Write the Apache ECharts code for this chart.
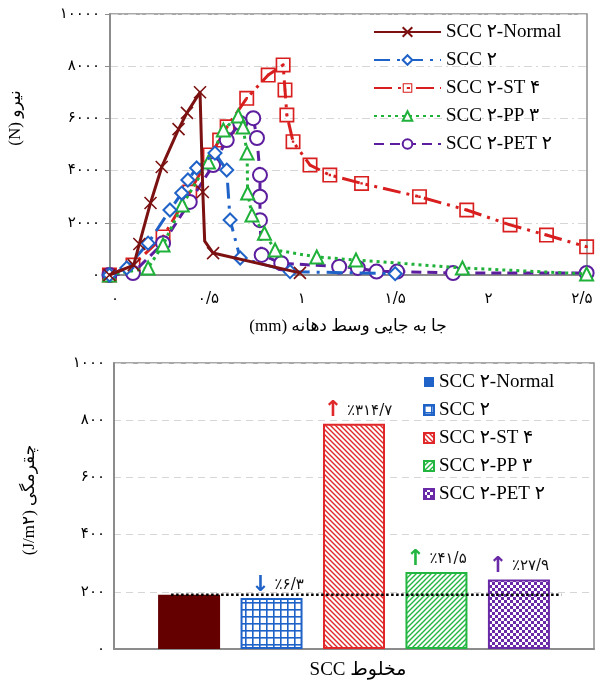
<!DOCTYPE html>
<html>
<head>
<meta charset="utf-8">
<script src="https://cdn.jsdelivr.net/npm/echarts@6/dist/echarts.min.js"></script>
<style>html,body{margin:0;padding:0;background:#fff;}#c{width:601px;height:684px;}</style>
</head>
<body>
<div id="c"></div>
<script>
// ---------- DATA ----------
const seriesNames = ['SCC ۲-Normal', 'SCC ۲', 'SCC ۲-ST ۴', 'SCC ۲-PP ۳', 'SCC ۲-PET ۲'];
// Load–displacement curves [displacement (mm), force (N)]
const normalCurve = [[-0.03,0],[0.1,380],[0.13,1190],[0.19,2760],[0.25,4140],[0.34,5590],[0.385,6210],[0.455,7000],[0.47,3180],[0.48,1300],[0.525,840],[0.99,80]];
const scc2Curve = [[-0.03,0],[0.063,270],[0.177,1220],[0.294,2490],[0.357,3140],[0.39,3640],[0.437,4100],[0.535,4670],[0.598,4020],[0.616,2110],[0.67,650],[0.937,130],[1.5,50]];
const stCurve = [[-0.03,0],[0.096,380],[0.257,1460],[0.40,3180],[0.51,4600],[0.56,5170],[0.60,5680],[0.705,6770],[0.82,7660],[0.90,8050],[0.91,7090],[0.92,6130],[0.953,5110],[1.044,4210],[1.15,3830],[1.32,3510],[1.63,3000],[1.883,2490],[2.115,1920],[2.31,1530],[2.525,1080]];
const ppCurve = [[-0.03,0],[0.177,270],[0.257,1150],[0.36,2680],[0.50,4330],[0.58,5560],[0.66,6090],[0.685,5670],[0.707,4670],[0.71,3140],[0.733,2300],[0.80,1600],[0.857,960],[1.08,690],[1.29,575],[1.86,270],[2.525,40]];
const petCurve = [[-0.03,0],[0.096,77],[0.257,1220],[0.40,2800],[0.525,4210],[0.598,5170],[0.67,5820],[0.74,6010],[0.76,5250],[0.776,3830],[0.776,3000],[0.776,2100],[0.785,770],[0.89,450],[1.2,320],[1.3,270],[1.4,130],[1.51,130],[1.81,77],[2.525,77]];
// index of the Normal-curve point that carries no marker (the knee of the drop)
const normalUnmarked = [9];
const xTicks = [0, 0.5, 1, 1.5, 2, 2.5];
// Toughness bars (J/m2)
const barCategory = ['SCC'];
const toughness = [190, 178, 788, 269, 243];
const changePct = [null, -6.3, 314.7, 41.5, 27.9];
const referenceLevel = 190;
const refLineSpan = [0.119, 0.932];

// ---------- HELPERS ----------
const FA = '۰۱۲۳۴۵۶۷۸۹';
const fa = v => String(v).replace(/\d/g, d => FA[d]).replace('.', '/');
const colors = ['#7b1111', '#1f62c8', '#d81e1e', '#1fb13a', '#5c1e9e'];
const barBorders = ['#650000', '#1f62c8', '#e0282a', '#22b540', '#6a2aa8'];

function pat(w, h, draw) {
  const c = document.createElement('canvas');
  c.width = w; c.height = h;
  const ctx = c.getContext('2d');
  ctx.fillStyle = '#fff'; ctx.fillRect(0, 0, w, h);
  draw(ctx, w, h);
  return { image: c, repeat: 'repeat' };
}
const gridPat = pat(7, 7, (ctx) => { ctx.fillStyle = barBorders[1]; ctx.fillRect(0,0,7,1.6); ctx.fillRect(0,0,1.6,7); });
const backPat = pat(5, 5, (ctx) => { ctx.strokeStyle = barBorders[2]; ctx.lineWidth = 1.4;
  ctx.beginPath(); ctx.moveTo(-1,-1); ctx.lineTo(6,6); ctx.moveTo(-1,4); ctx.lineTo(1,6); ctx.moveTo(4,-1); ctx.lineTo(6,1); ctx.stroke(); });
const fwdPat = pat(5, 5, (ctx) => { ctx.strokeStyle = barBorders[3]; ctx.lineWidth = 1.4;
  ctx.beginPath(); ctx.moveTo(-1,6); ctx.lineTo(6,-1); ctx.moveTo(-1,1); ctx.lineTo(1,-1); ctx.moveTo(4,6); ctx.lineTo(6,4); ctx.stroke(); });
const chkPat = pat(6, 6, (ctx) => { ctx.fillStyle = barBorders[4]; ctx.fillRect(0,0,3,3); ctx.fillRect(3,3,3,3); });
const barFills = ['#650000', gridPat, backPat, fwdPat, chkPat];

const serif = "'Liberation Serif', 'DejaVu Sans', serif";
const persian = "'DejaVu Sans', sans-serif";
const gray = '#8c8c8c';

const curves = [normalCurve, scc2Curve, stCurve, ppCurve, petCurve];
const squareDot = 'path://M0,0H100V100H0Z M11,11V89H89V11Z M42,42H58V58H42Z';
const symbols = ['path://M0,0L10,10M10,0L0,10', 'emptyDiamond', squareDot, 'emptyTriangle', 'emptyCircle'];
const symbolSizes = [12, 13, 15, 13, 14];
const dashes = ['solid', [16,7,3,7], [18,6,3,6,3,6], [3,4], [10,6]];

const lineSeries = curves.map((d, i) => ({
  type: 'line', name: seriesNames[i], xAxisIndex: 0, yAxisIndex: 0,
  data: i === 0 ? d.map((p, k) => normalUnmarked.includes(k) ? { value: p, symbol: 'none' } : p) : d,
  symbol: symbols[i], symbolSize: symbolSizes[i], symbolKeepAspect: true,
  showAllSymbol: true, smooth: false, clip: false,
  lineStyle: { color: colors[i], width: 3, type: dashes[i], cap: 'butt', join: 'round' },
  itemStyle: i === 2 ? { color: colors[i], borderWidth: 0 } : { color: colors[i], borderColor: colors[i], borderWidth: 1.6 },
  z: 10 - i
}));
lineSeries[2].z = 3;

const labelOffsets = [[0,0],[6,0],[4,0],[0,0],[0,0]];
const barSeries = toughness.map((v, i) => ({
  type: 'bar', name: seriesNames[i] + '\u200B', xAxisIndex: 1, yAxisIndex: 1,
  data: [v], barWidth: 62, barGap: '33%',
  itemStyle: { color: barFills[i], borderColor: barBorders[i], borderWidth: i === 0 ? 0 : 2 },
  label: changePct[i] == null ? { show: false } : {
    show: true, position: 'top', distance: 2, offset: labelOffsets[i],
    formatter: '{a|' + (changePct[i] < 0 ? '↓' : '↑') + '}{b| ٪' + fa(Math.abs(changePct[i])) + '}',
    rich: {
      a: { color: barBorders[i], fontSize: 22, fontFamily: persian, fontWeight: 'bold' },
      b: { color: '#111', fontSize: 15, fontFamily: persian }
    }
  }
}));

const refLine = {
  type: 'line', xAxisIndex: 2, yAxisIndex: 1, symbol: 'none', silent: true,
  data: [[refLineSpan[0], referenceLevel], [refLineSpan[1], referenceLevel]],
  lineStyle: { color: '#000', width: 2.5, type: [2.5, 2.5] }, z: 5
};

const chart = echarts.init(document.getElementById('c'), null, { renderer: 'canvas' });
chart.setOption({
  animation: false,
  backgroundColor: '#fff',
  grid: [
    { left: 110, top: 14, width: 477, height: 261, show: true, borderColor: gray, borderWidth: 1.5 },
    { left: 114, top: 363, width: 480, height: 286, show: true, borderColor: gray, borderWidth: 1.5 }
  ],
  xAxis: [
    { gridIndex: 0, type: 'value', min: -0.027, max: 2.527,
      axisLine: { show: true, onZero: false, lineStyle: { color: gray, width: 2 } },
      axisTick: { show: false }, splitLine: { show: false },
      axisLabel: { customValues: xTicks, formatter: v => fa(v), margin: 17, fontSize: 15, color: '#000', fontFamily: persian } },
    { gridIndex: 1, type: 'category', data: barCategory,
      axisLine: { show: true, onZero: false, lineStyle: { color: gray, width: 2 } },
      axisTick: { show: false }, axisLabel: { show: false } },
    { gridIndex: 1, type: 'value', min: 0, max: 1, show: false }
  ],
  yAxis: [
    { gridIndex: 0, type: 'value', min: 0, max: 10000, interval: 2000,
      axisLine: { show: true, onZero: false, lineStyle: { color: gray, width: 2 } },
      axisTick: { show: true, length: 5, lineStyle: { color: gray } },
      splitLine: { show: true, lineStyle: { color: '#d6d6d6', type: [8,4,2,4] } },
      axisLabel: { formatter: v => fa(v), margin: 10, fontSize: 15, color: '#000', fontFamily: persian } },
    { gridIndex: 1, type: 'value', min: 0, max: 1000, interval: 200,
      axisLine: { show: true, onZero: false, lineStyle: { color: gray, width: 2 } },
      axisTick: { show: false },
      splitLine: { show: true, lineStyle: { color: '#d6d6d6', type: [7,5] } },
      axisLabel: { formatter: v => fa(v), margin: 9, fontSize: 15, color: '#000', fontFamily: persian } }
  ],
  legend: [
    { data: seriesNames, left: 373, top: 22, padding: 0, orient: 'vertical', itemWidth: 67, itemHeight: 12, itemGap: 8,
      textStyle: { fontSize: 19, lineHeight: 20, color: '#000', fontFamily: serif } },
    { data: seriesNames.map((n, i) => i === 0 ? { name: n + '\u200B', itemStyle: { color: '#1f62c8', borderWidth: 0 } } : n + '\u200B'),
      left: 423, top: 372, padding: 0, orient: 'vertical', icon: 'rect', itemWidth: 10, itemHeight: 10, itemGap: 8,
      textStyle: { fontSize: 19, lineHeight: 20, color: '#000', fontFamily: serif } }
  ],
  graphic: [
    { type: 'text', x: 16, y: 118, rotation: Math.PI / 2,
      style: { text: '(N) نیرو', font: '17px ' + serif, fill: '#000', align: 'center', verticalAlign: 'middle' } },
    { type: 'text', x: 348, y: 327,
      style: { text: '(mm) جا به جایی وسط دهانه', font: '17px ' + serif, fill: '#000', align: 'center', verticalAlign: 'middle' } },
    { type: 'text', x: 30, y: 500, rotation: Math.PI / 2,
      style: { text: '(J/m۲) چقرمگی', font: '17px ' + serif, fill: '#000', align: 'center', verticalAlign: 'middle' } },
    { type: 'text', x: 358, y: 670,
      style: { text: 'SCC مخلوط', font: '19px ' + serif, fill: '#000', align: 'center', verticalAlign: 'middle' } }
  ],
  series: [...lineSeries, ...barSeries, refLine]
});
</script>
</body>
</html>
